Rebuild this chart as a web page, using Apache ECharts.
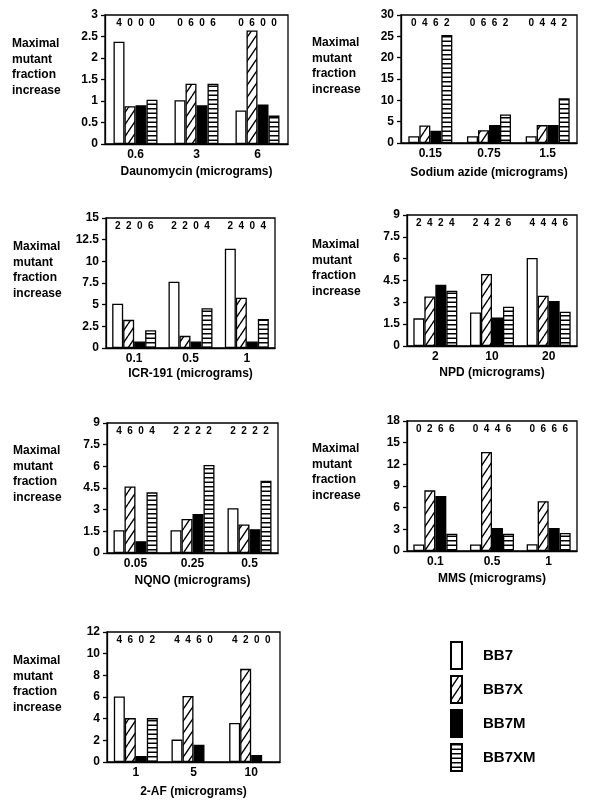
<!DOCTYPE html>
<html><head><meta charset="utf-8">
<script src="https://cdn.jsdelivr.net/npm/echarts@6/dist/echarts.min.js"></script>
<style>html,body{margin:0;padding:0;background:#fff}#c{width:592px;height:806px}</style>
</head><body><div id="c"></div>
<script>
// ---------- DATA ----------
const strains = ['BB7', 'BB7X', 'BB7M', 'BB7XM'];

const daunoDoses = ['0.6', '3', '6'];
const daunoBB7 = [2.38, 1.02, 0.78];
const daunoBB7X = [0.88, 1.40, 2.64];
const daunoBB7M = [0.90, 0.90, 0.92];
const daunoBB7XM = [1.03, 1.40, 0.66];
const daunoCounts = ['4000', '0606', '0600'];

const azideDoses = ['0.15', '0.75', '1.5'];
const azideBB7 = [1.6, 1.6, 1.6];
const azideBB7X = [4.1, 3.0, 4.2];
const azideBB7M = [2.9, 4.2, 4.2];
const azideBB7XM = [25.3, 6.7, 10.5];
const azideCounts = ['0462', '0662', '0442'];

const icrDoses = ['0.1', '0.5', '1'];
const icrBB7 = [5.1, 7.65, 11.45];
const icrBB7X = [3.25, 1.4, 5.8];
const icrBB7M = [0.75, 0.75, 0.75];
const icrBB7XM = [2.05, 4.6, 3.35];
const icrCounts = ['2206', '2204', '2404'];

const npdDoses = ['2', '10', '20'];
const npdBB7 = [1.9, 2.3, 6.05];
const npdBB7X = [3.4, 4.95, 3.45];
const npdBB7M = [4.2, 1.95, 3.1];
const npdBB7XM = [3.8, 2.7, 2.35];
const npdCounts = ['2424', '2426', '4446'];

const nqnoDoses = ['0.05', '0.25', '0.5'];
const nqnoBB7 = [1.57, 1.58, 3.1];
const nqnoBB7X = [4.6, 2.35, 1.98];
const nqnoBB7M = [0.82, 2.7, 1.65];
const nqnoBB7XM = [4.2, 6.1, 5.0];
const nqnoCounts = ['4604', '2222', '2222'];

const mmsDoses = ['0.1', '0.5', '1'];
const mmsBB7 = [0.9, 0.9, 0.95];
const mmsBB7X = [8.4, 13.7, 6.9];
const mmsBB7M = [7.6, 3.2, 3.2];
const mmsBB7XM = [2.4, 2.4, 2.5];
const mmsCounts = ['0266', '0446', '0666'];

const afDoses = ['1', '5', '10'];
const afBB7 = [6.05, 2.07, 3.6];
const afBB7X = [4.05, 6.1, 8.6];
const afBB7M = [0.55, 1.6, 0.65];
const afBB7XM = [4.05, null, null];
const afCounts = ['4602', '4460', '4200'];

const axisMax = [3, 30, 15, 9, 9, 18, 12];
const axisStep = [0.5, 5, 2.5, 1.5, 1.5, 3, 2];
const axisTitles = ['Daunomycin (micrograms)', 'Sodium azide (micrograms)', 'ICR-191 (micrograms)',
  'NPD (micrograms)', 'NQNO (micrograms)', 'MMS (micrograms)', '2-AF (micrograms)'];
const yTitle = 'Maximal\nmutant\nfraction\nincrease';

// ---------- LAYOUT ----------
const panels = [
  { doses: daunoDoses, vals: [daunoBB7, daunoBB7X, daunoBB7M, daunoBB7XM], counts: daunoCounts,
    grid: [105, 15, 183, 129], text: [12, 36], gap: 22 },
  { doses: azideDoses, vals: [azideBB7, azideBB7X, azideBB7M, azideBB7XM], counts: azideCounts,
    grid: [401, 15, 176, 128], text: [312, 35], gap: 24 },
  { doses: icrDoses, vals: [icrBB7, icrBB7X, icrBB7M, icrBB7XM], counts: icrCounts,
    grid: [106, 218, 169, 130], text: [13, 239], gap: 20 },
  { doses: npdDoses, vals: [npdBB7, npdBB7X, npdBB7M, npdBB7XM], counts: npdCounts,
    grid: [407, 215, 170, 131], text: [312, 237], gap: 21 },
  { doses: nqnoDoses, vals: [nqnoBB7, nqnoBB7X, nqnoBB7M, nqnoBB7XM], counts: nqnoCounts,
    grid: [107, 423, 171, 130], text: [13, 443], gap: 22 },
  { doses: mmsDoses, vals: [mmsBB7, mmsBB7X, mmsBB7M, mmsBB7XM], counts: mmsCounts,
    grid: [407, 421, 170, 130], text: [312, 441], gap: 22 },
  { doses: afDoses, vals: [afBB7, afBB7X, afBB7M, afBB7XM], counts: afCounts,
    grid: [107, 632, 173, 130], text: [13, 653], gap: 24 }
];

const FONT = '"Liberation Sans", Arial, Helvetica, sans-serif';

function hatchCanvas() {
  const c = document.createElement('canvas'); c.width = 8; c.height = 12;
  const g = c.getContext('2d');
  g.fillStyle = '#fff'; g.fillRect(0, 0, 8, 12);
  g.strokeStyle = '#000'; g.lineWidth = 1.4;
  g.beginPath();
  g.moveTo(-8, 12); g.lineTo(0, 0);
  g.moveTo(0, 12); g.lineTo(8, 0);
  g.moveTo(8, 12); g.lineTo(16, 0);
  g.stroke();
  return c;
}
function stripeCanvas() {
  const c = document.createElement('canvas'); c.width = 4; c.height = 9;
  const g = c.getContext('2d');
  g.fillStyle = '#fff'; g.fillRect(0, 0, 4, 9);
  g.fillStyle = '#000'; g.fillRect(0, 0, 4, 1.5); g.fillRect(0, 4.5, 4, 1.5);
  return c;
}
const fills = ['#ffffff', { image: hatchCanvas(), repeat: 'repeat' }, '#000000', { image: stripeCanvas(), repeat: 'repeat' }];

const grids = [], xAxes = [], yAxes = [], series = [], graphics = [];
const BARW = 11;

panels.forEach((p, i) => {
  grids.push({ left: p.grid[0], top: p.grid[1], width: p.grid[2], height: p.grid[3],
    show: true, borderColor: '#000', borderWidth: 1.3, backgroundColor: 'transparent' });
  xAxes.push({ type: 'category', gridIndex: i, data: p.doses,
    axisLine: { lineStyle: { color: '#000', width: 1.3 } }, axisTick: { show: false },
    axisLabel: { color: '#000', fontFamily: FONT, fontWeight: 'bold', fontSize: 12, margin: 5 },
    name: axisTitles[i], nameLocation: 'middle', nameGap: p.gap,
    nameTextStyle: { color: '#000', fontFamily: FONT, fontWeight: 'bold', fontSize: 12 } });
  yAxes.push({ type: 'value', gridIndex: i, min: 0, max: axisMax[i], interval: axisStep[i],
    splitLine: { show: false },
    axisLine: { show: true, lineStyle: { color: '#000', width: 1.3 } },
    axisTick: { show: true, inside: false, length: 4, lineStyle: { color: '#000', width: 1.3 } },
    axisLabel: { color: '#000', fontFamily: FONT, fontWeight: 'bold', fontSize: 12, margin: 7 } });
  strains.forEach((s, k) => {
    series.push({ type: 'bar', name: s, xAxisIndex: i, yAxisIndex: i, data: p.vals[k],
      barWidth: BARW, barGap: '0%', animation: false, silent: true,
      itemStyle: { color: fills[k], borderColor: '#000', borderWidth: 1.3 } });
  });
  const ymax = axisMax[i];
  const counts = p.counts;
  series.push({ type: 'custom', xAxisIndex: i, yAxisIndex: i, silent: true, animation: false,
    data: counts.map((c, j) => [j, ymax]),
    renderItem: function (params, api) {
      const idx = api.value(0);
      const pt = api.coord([idx, ymax]);
      const str = counts[idx];
      return { type: 'group', children: str.split('').map((d, m) => ({
        type: 'text', style: { text: d, x: pt[0] + (m - 1.5) * BARW, y: pt[1] + 8,
          align: 'center', verticalAlign: 'middle', font: 'bold 10px ' + FONT, fill: '#000' } })) };
    } });
  graphics.push({ type: 'text', left: p.text[0], top: p.text[1],
    style: { text: yTitle, font: 'bold 12px ' + FONT, lineHeight: 15.5, fill: '#000' } });
});

const chart = echarts.init(document.getElementById('c'), null, { renderer: 'canvas' });
chart.setOption({
  animation: false,
  backgroundColor: '#fff',
  grid: grids, xAxis: xAxes, yAxis: yAxes, series: series, graphic: graphics,
  legend: { orient: 'vertical', left: 445, top: 636, itemWidth: 11, itemHeight: 27, itemGap: 5,
    icon: 'rect', data: strains, selectedMode: false,
    textStyle: { color: '#000', fontFamily: FONT, fontWeight: 'bold', fontSize: 15, padding: [0, 0, 0, 16] } }
});
</script></body></html>
